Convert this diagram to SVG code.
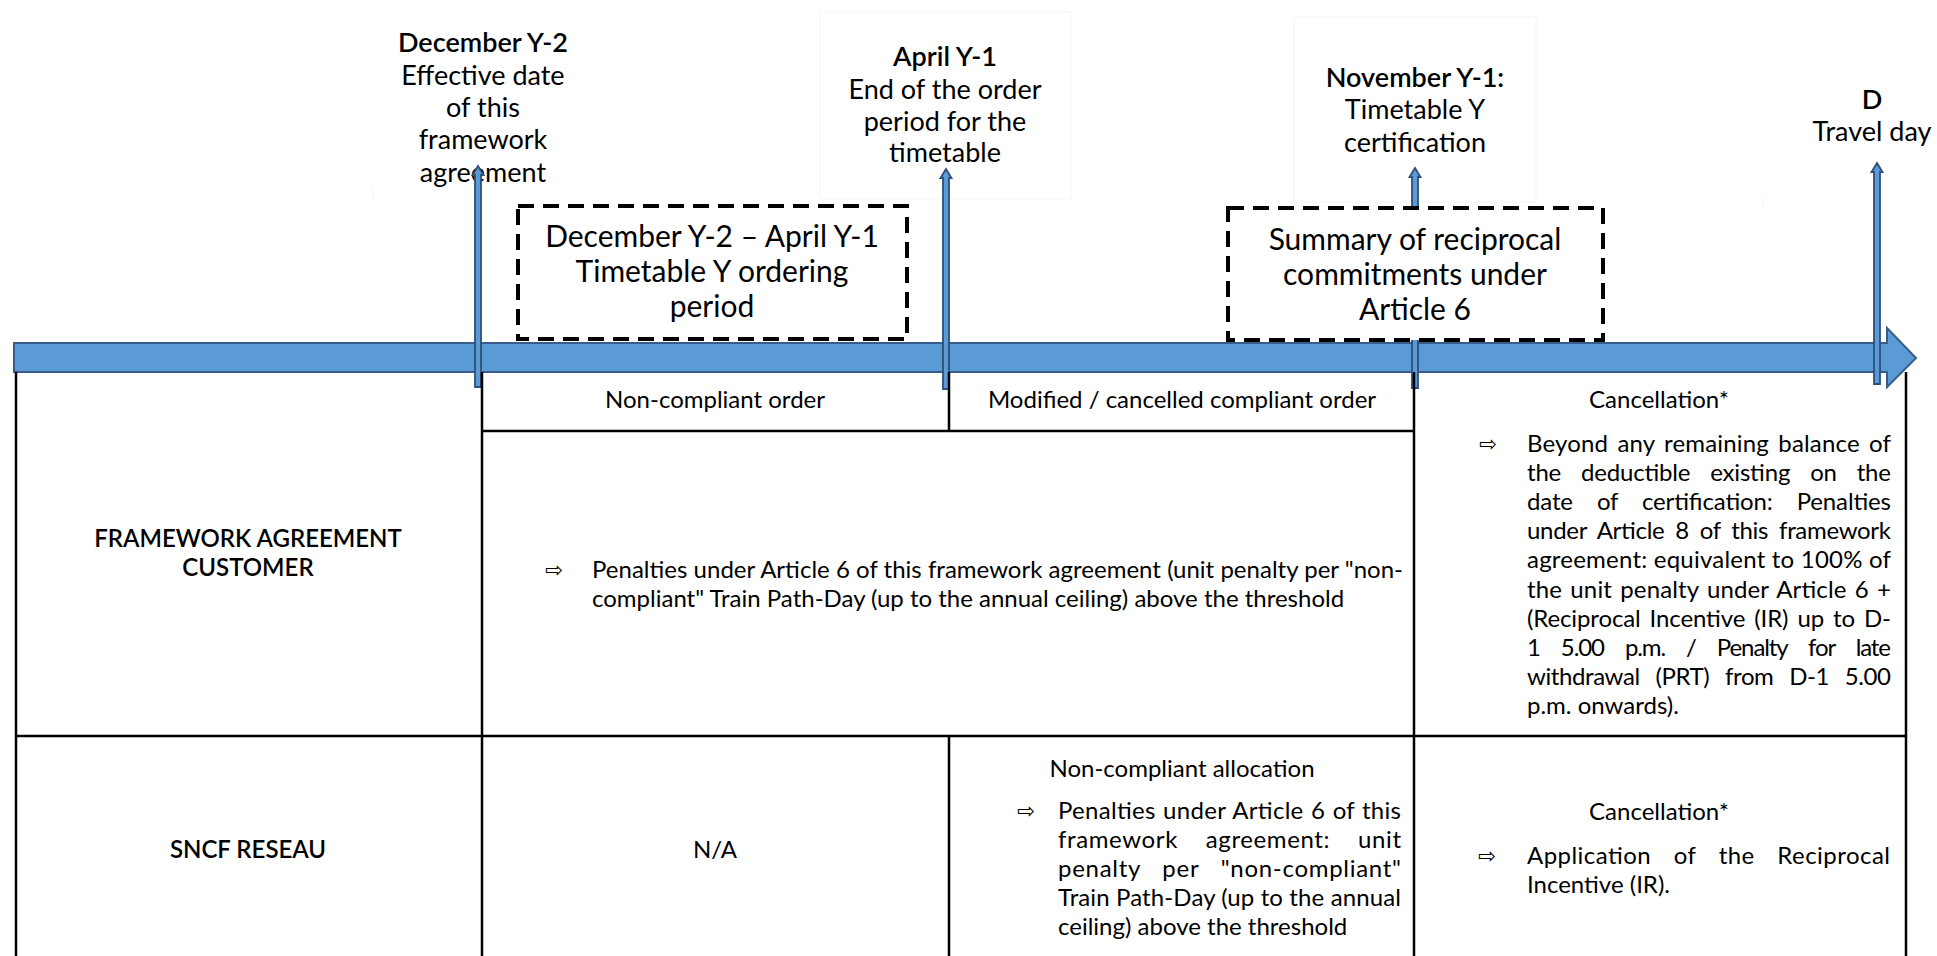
<svg xmlns="http://www.w3.org/2000/svg" width="1937" height="956" viewBox="0 0 1937 956">
<style>
text{font-family:Lato,"Liberation Sans",sans-serif;fill:#000}
.lbl{font-size:27px;text-anchor:middle;font-weight:400}
.b{font-weight:600}
.box{font-size:30px;text-anchor:middle;font-weight:400}
.t{font-size:24px;font-weight:400}
.t.b{font-weight:600}
.c{text-anchor:middle}
.arr{font-family:"DejaVu Sans",sans-serif;font-size:21px;font-weight:400}
.grid{stroke:#000;stroke-width:2.5;fill:none}
.va{fill:#5B9BD5;stroke:#2F4E7A;stroke-width:1.8}
.dash{fill:#fff;stroke:#000;stroke-width:4;stroke-dasharray:16 9}
.faint{fill:none;stroke:#F3F4F6;stroke-width:1}
</style>
<rect width="1937" height="956" fill="#fff"/>

<g id="label-dec">
<line class="faint" x1="373" y1="188" x2="373" y2="200"/>
<text class="lbl b" x="483" y="52">December Y-2</text>
<text class="lbl" x="483" y="85">Effective date</text>
<text class="lbl" x="483" y="117">of this</text>
<text class="lbl" x="483" y="149">framework</text>
<text class="lbl" x="483" y="182">agreement</text>
</g>
<g id="label-april">
<rect class="faint" x="820" y="12" width="251" height="187"/>
<text class="lbl b" x="945" y="66">April Y-1</text>
<text class="lbl" x="945" y="99">End of the order</text>
<text class="lbl" x="945" y="131">period for the</text>
<text class="lbl" x="945" y="162">timetable</text>
</g>
<g id="label-nov">
<rect class="faint" x="1294" y="17" width="242" height="185"/>
<text class="lbl b" x="1415" y="87">November Y-1:</text>
<text class="lbl" x="1415" y="119">Timetable Y</text>
<text class="lbl" x="1415" y="152">certification</text>
</g>
<g id="label-d">
<line class="faint" x1="1763" y1="197" x2="1763" y2="208"/>
<text class="lbl b" x="1872" y="109">D</text>
<text class="lbl" x="1872" y="141">Travel day</text>
</g>

<g id="timeline">
<path d="M14,343 H1887 V328 L1916,358 L1887,387 V372 H14 Z" fill="#5B9BD5" stroke="#385D8A" stroke-width="2"/>
</g>

<g id="connectors">
<path class="va" d="M475,387 V175 H472.5 L478,166 L483.5,175 H481 V387 Z"/>
<path class="va" d="M943,389 V178 H940.5 L946,169 L951.5,178 H949 V389 Z"/>
<path class="va" d="M1412,388 V177 H1409.5 L1415,168 L1420.5,177 H1418 V388 Z"/>
<path class="va" d="M1874,384 V172 H1871.5 L1877,163 L1882.5,172 H1880 V384 Z"/>
</g>

<g id="period-box">
<rect class="dash" x="518" y="206" width="389" height="133"/>
<text class="box" x="712" y="247">December Y-2 – April Y-1</text>
<text class="box" x="712" y="282">Timetable Y ordering</text>
<text class="box" x="712" y="317">period</text>
</g>
<g id="summary-box">
<rect class="dash" x="1228" y="208" width="375" height="132"/>
<text class="box" x="1415" y="250">Summary of reciprocal</text>
<text class="box" x="1415" y="285">commitments under</text>
<text class="box" x="1415" y="320">Article 6</text>
</g>

<g id="table">
<path class="grid" d="M16,372 V956 M482,372 V956 M949,372 V431 M949,736 V956 M1414,372 V956 M1906,372 V956 M482,431 H1414 M16,736 H1906"/>
</g>

<g id="hdr-noncompliant"><text class="t c" x="715" y="408">Non-compliant order</text></g>
<g id="hdr-modified"><text class="t c" x="1182" y="408">Modified / cancelled compliant order</text></g>
<g id="hdr-cancel"><text class="t c" x="1659" y="408">Cancellation*</text></g>

<g id="row-customer"><text class="t c b" x="248" y="547">FRAMEWORK AGREEMENT</text>
<text class="t c b" x="248" y="576">CUSTOMER</text></g>

<g id="cell-customer-penalties">
<text class="arr" x="545" y="577">⇨</text>
<text class="t" x="592" y="578" textLength="811" lengthAdjust="spacing">Penalties under Article 6 of this framework agreement (unit penalty per "non-</text>
<text class="t" x="592" y="607">compliant" Train Path-Day (up to the annual ceiling) above the threshold</text>
</g>

<g id="cell-customer-cancel">
<text class="arr" x="1479" y="451">⇨</text>
<text class="t" x="1527" y="452" textLength="364" lengthAdjust="spacing" word-spacing="3">Beyond any remaining balance of</text>
<text class="t" x="1527" y="481" textLength="364" lengthAdjust="spacing" word-spacing="14">the deductible existing on the</text>
<text class="t" x="1527" y="510" textLength="364" lengthAdjust="spacing" word-spacing="18">date of certification: Penalties</text>
<text class="t" x="1527" y="539" textLength="364" lengthAdjust="spacing" word-spacing="5">under Article 8 of this framework</text>
<text class="t" x="1527" y="568" textLength="364" lengthAdjust="spacing">agreement: equivalent to 100% of</text>
<text class="t" x="1527" y="598" textLength="364" lengthAdjust="spacing" word-spacing="2">the unit penalty under Article 6 +</text>
<text class="t" x="1527" y="627" textLength="364" lengthAdjust="spacing" word-spacing="3">(Reciprocal Incentive (IR) up to D-</text>
<text class="t" x="1527" y="656" textLength="364" lengthAdjust="spacing" word-spacing="16">1 5.00 p.m. / Penalty for late</text>
<text class="t" x="1527" y="685" textLength="364" lengthAdjust="spacing" word-spacing="10">withdrawal (PRT) from D-1 5.00</text>
<text class="t" x="1527" y="714">p.m. onwards).</text>
</g>

<g id="row-sncf"><text class="t c b" x="248" y="858">SNCF RESEAU</text></g>
<g id="cell-sncf-na"><text class="t c" x="715" y="858">N/A</text></g>

<g id="cell-sncf-allocation">
<text class="t c" x="1182" y="777">Non-compliant allocation</text>
<text class="arr" x="1017" y="818">⇨</text>
<text class="t" x="1058" y="819" textLength="343" lengthAdjust="spacing" word-spacing="1">Penalties under Article 6 of this</text>
<text class="t" x="1058" y="848" textLength="343" lengthAdjust="spacing" word-spacing="21">framework agreement: unit</text>
<text class="t" x="1058" y="877" textLength="343" lengthAdjust="spacing" word-spacing="15">penalty per "non-compliant"</text>
<text class="t" x="1058" y="906" textLength="343" lengthAdjust="spacing">Train Path-Day (up to the annual</text>
<text class="t" x="1058" y="935">ceiling) above the threshold</text>
</g>

<g id="cell-sncf-cancel">
<text class="t c" x="1659" y="820">Cancellation*</text>
<text class="arr" x="1478" y="863">⇨</text>
<text class="t" x="1527" y="864" textLength="363" lengthAdjust="spacing" word-spacing="16">Application of the Reciprocal</text>
<text class="t" x="1527" y="893">Incentive (IR).</text>
</g>
</svg>
